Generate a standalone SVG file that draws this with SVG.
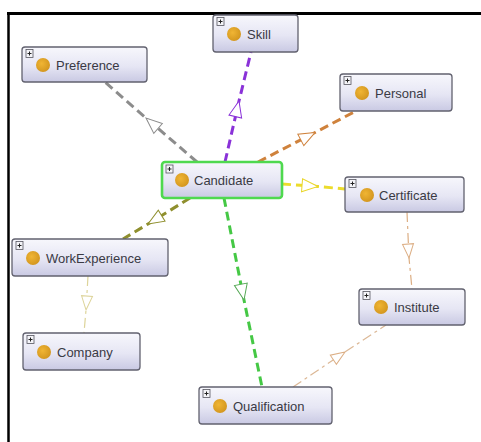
<svg xmlns="http://www.w3.org/2000/svg" width="481" height="442" viewBox="0 0 481 442">
  <style>
    .box { fill: url(#nodeFill); stroke: #62626f; stroke-width: 1.3; }
    .sel { stroke: #4fd94f; stroke-width: 2.6; }
    .dot { fill: url(#dotFill); }
    .exp { fill: #f4f4f8; stroke: #55555f; stroke-width: 0.8; }
    .expPlus { stroke: #222; stroke-width: 1; }
    .lbl { font-family: "Liberation Sans", Arial, sans-serif; font-size: 13px; fill: #3a3a44; }
    .thick { fill: none; stroke-width: 3; stroke-dasharray: 9 5; }
    .thin { fill: none; stroke-width: 1.2; stroke-dasharray: 10 4 3 4; }
  </style>
  <defs>
    <linearGradient id="nodeFill" x1="0" y1="0" x2="0" y2="1">
      <stop offset="0" stop-color="#f7f7fc"/>
      <stop offset="0.55" stop-color="#e6e6f4"/>
      <stop offset="1" stop-color="#c9c9e3"/>
    </linearGradient>
    <radialGradient id="dotFill" cx="0.4" cy="0.4" r="0.65">
      <stop offset="0" stop-color="#f0b534"/>
      <stop offset="1" stop-color="#d2951e"/>
    </radialGradient>
    <marker id="aGrey" markerUnits="userSpaceOnUse" orient="auto" overflow="visible" markerWidth="1" markerHeight="1">
      <path d="M0,0 L-16,-6.5 L-16,6.5 Z" fill="#fff" stroke="#8c8c8c" stroke-width="1"/>
    </marker>
    <marker id="aPurple" markerUnits="userSpaceOnUse" orient="auto" overflow="visible" markerWidth="1" markerHeight="1">
      <path d="M0,0 L-16,-6.5 L-16,6.5 Z" fill="#fff" stroke="#8a32d8" stroke-width="1"/>
    </marker>
    <marker id="aOrange" markerUnits="userSpaceOnUse" orient="auto" overflow="visible" markerWidth="1" markerHeight="1">
      <path d="M0,0 L-16,-6.5 L-16,6.5 Z" fill="#fff" stroke="#cf823c" stroke-width="1"/>
    </marker>
    <marker id="aYellow" markerUnits="userSpaceOnUse" orient="auto" overflow="visible" markerWidth="1" markerHeight="1">
      <path d="M0,0 L-16,-6.5 L-16,6.5 Z" fill="#fff" stroke="#e9d62a" stroke-width="1"/>
    </marker>
    <marker id="aOlive" markerUnits="userSpaceOnUse" orient="auto" overflow="visible" markerWidth="1" markerHeight="1">
      <path d="M0,0 L-16,-6.5 L-16,6.5 Z" fill="#fff" stroke="#8f8f2e" stroke-width="1"/>
    </marker>
    <marker id="aGreen" markerUnits="userSpaceOnUse" orient="auto" overflow="visible" markerWidth="1" markerHeight="1">
      <path d="M0,0 L-16,-6.5 L-16,6.5 Z" fill="#fff" stroke="#56a856" stroke-width="1"/>
    </marker>
    <marker id="aPeach" markerUnits="userSpaceOnUse" orient="auto" overflow="visible" markerWidth="1" markerHeight="1">
      <path d="M0,0 L-14,-5.5 L-14,5.5 Z" fill="#fff" stroke="#dcae84" stroke-width="1"/>
    </marker>
    <marker id="aCream" markerUnits="userSpaceOnUse" orient="auto" overflow="visible" markerWidth="1" markerHeight="1">
      <path d="M0,0 L-14,-5.5 L-14,5.5 Z" fill="#fff" stroke="#ddd49a" stroke-width="1"/>
    </marker>
  </defs>

  <rect width="481" height="442" fill="#fff"/>
  <!-- frame lines (top and left) -->
  <line x1="7" y1="13.5" x2="481" y2="13.5" stroke="#000" stroke-width="3"/>
  <line x1="8.5" y1="12" x2="8.5" y2="442" stroke="#000" stroke-width="2.5"/>

  <g id="connectors">
    <path class="thick" stroke="#8c8c8c" d="M197,162 L146,118 L105,82" marker-mid="url(#aGrey)"/>
    <path class="thick" stroke="#8a32d8" d="M225,162 L239,101 L251,52" marker-mid="url(#aPurple)"/>
    <path class="thick" stroke="#cf823c" d="M258,162 L315,132.5 L356,111" marker-mid="url(#aOrange)"/>
    <path class="thick" stroke="#ecdc2c" d="M282,184 L318,186.5 L345,189" marker-mid="url(#aYellow)"/>
    <path class="thick" stroke="#8f8f2e" d="M190,198 L148,224 L123,239" marker-mid="url(#aOlive)"/>
    <path class="thick" stroke="#45c845" d="M224,198 L244,300 L262,387" marker-mid="url(#aGreen)"/>
    <path class="thin" stroke="#dcae84" d="M407,212 L409,258 L412,289" marker-mid="url(#aPeach)"/>
    <path class="thin" stroke="#ddd49a" d="M88,276 L86,310 L84,333" marker-mid="url(#aCream)"/>
    <path class="thin" stroke="#dcb896" d="M293,387 L345,352 L386,325" marker-mid="url(#aPeach)"/>
  </g>

  <g id="preference">
    <rect class="box" x="22" y="47" width="125" height="35" rx="3"/>
    <rect class="exp" x="26" y="49.5" width="7" height="8"/>
    <path class="expPlus" d="M27.5,53.5 H31.5 M29.5,51.5 V55.5"/>
    <circle class="dot" cx="43" cy="65" r="7"/>
    <text class="lbl" x="56" y="69.5">Preference</text>
  </g>

  <g id="skill">
    <rect class="box" x="213" y="15" width="85" height="37" rx="3"/>
    <rect class="exp" x="217" y="17.5" width="7" height="8"/>
    <path class="expPlus" d="M218.5,21.5 H222.5 M220.5,19.5 V23.5"/>
    <circle class="dot" cx="234" cy="34" r="7"/>
    <text class="lbl" x="247" y="38.5">Skill</text>
  </g>

  <g id="personal">
    <rect class="box" x="340" y="74" width="112" height="37" rx="3"/>
    <rect class="exp" x="344" y="76.5" width="7" height="8"/>
    <path class="expPlus" d="M345.5,80.5 H349.5 M347.5,78.5 V82.5"/>
    <circle class="dot" cx="362" cy="93" r="7"/>
    <text class="lbl" x="375" y="97.5">Personal</text>
  </g>

  <g id="candidate">
    <rect class="box sel" x="162" y="162" width="120" height="36" rx="3"/>
    <rect class="exp" x="166" y="165" width="7" height="8"/>
    <path class="expPlus" d="M167.5,169 H171.5 M169.5,167 V171"/>
    <circle class="dot" cx="182" cy="180" r="7"/>
    <text class="lbl" x="194" y="184.5">Candidate</text>
  </g>

  <g id="certificate">
    <rect class="box" x="345" y="177" width="119" height="35" rx="3"/>
    <rect class="exp" x="349" y="179.5" width="7" height="8"/>
    <path class="expPlus" d="M350.5,183.5 H354.5 M352.5,181.5 V185.5"/>
    <circle class="dot" cx="367" cy="195" r="7"/>
    <text class="lbl" x="379" y="199.5">Certificate</text>
  </g>

  <g id="work-experience">
    <rect class="box" x="12" y="239" width="156" height="37" rx="3"/>
    <rect class="exp" x="16" y="241.5" width="7" height="8"/>
    <path class="expPlus" d="M17.5,245.5 H21.5 M19.5,243.5 V247.5"/>
    <circle class="dot" cx="33" cy="258" r="7"/>
    <text class="lbl" x="46" y="262.5">WorkExperience</text>
  </g>

  <g id="institute">
    <rect class="box" x="359" y="289" width="106" height="36" rx="3"/>
    <rect class="exp" x="363" y="291.5" width="7" height="8"/>
    <path class="expPlus" d="M364.5,295.5 H368.5 M366.5,293.5 V297.5"/>
    <circle class="dot" cx="381" cy="307" r="7"/>
    <text class="lbl" x="394" y="311.5">Institute</text>
  </g>

  <g id="company">
    <rect class="box" x="23" y="333" width="117" height="37" rx="3"/>
    <rect class="exp" x="27" y="335.5" width="7" height="8"/>
    <path class="expPlus" d="M28.5,339.5 H32.5 M30.5,337.5 V341.5"/>
    <circle class="dot" cx="44" cy="352" r="7"/>
    <text class="lbl" x="57" y="356.5">Company</text>
  </g>

  <g id="qualification">
    <rect class="box" x="199" y="387" width="133" height="37" rx="3"/>
    <rect class="exp" x="203" y="389.5" width="7" height="8"/>
    <path class="expPlus" d="M204.5,393.5 H208.5 M206.5,391.5 V395.5"/>
    <circle class="dot" cx="220" cy="406" r="7"/>
    <text class="lbl" x="233" y="410.5">Qualification</text>
  </g>
</svg>
